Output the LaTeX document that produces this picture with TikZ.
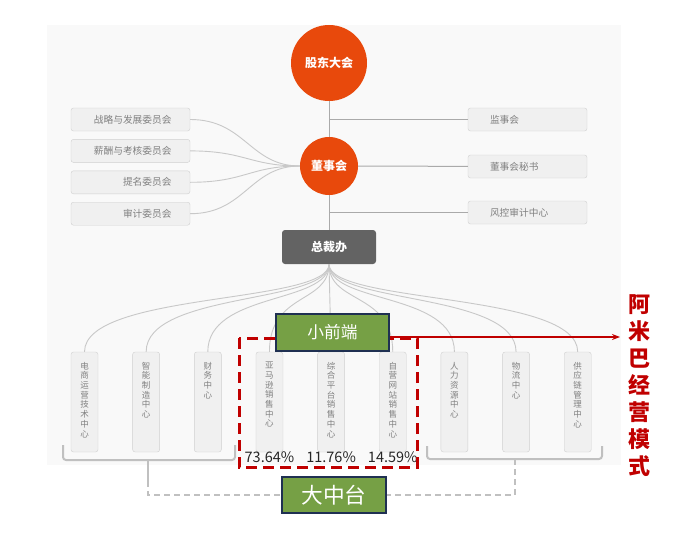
\documentclass[tikz,border=0pt]{standalone}
\usepackage{fontspec}
\setmainfont{Noto Sans CJK SC}
\usepackage{xcolor}
\usetikzlibrary{arrows.meta,positioning,calc}
\definecolor{orgred}{RGB}{232,73,12}
\definecolor{boxline}{RGB}{208,208,208}
\definecolor{boxfill}{RGB}{240,240,240}
\definecolor{boxtxt}{RGB}{128,128,128}
\definecolor{linegray}{RGB}{170,170,170}
\definecolor{curvegray}{RGB}{200,200,200}
\definecolor{brkgray}{RGB}{192,192,192}
\definecolor{bgpanel}{RGB}{249,249,249}
\definecolor{grn}{RGB}{118,160,69}
\definecolor{navy}{RGB}{31,48,82}
\definecolor{amred}{RGB}{192,0,0}
\definecolor{ceo}{RGB}{99,99,99}
\newcommand{\vlabel}[1]{\parbox[t][80pt][t]{14pt}{\centering #1}}

\begin{document}
\begin{tikzpicture}[x=1pt, y=-1pt,
  circ/.style={circle, fill=orgred, text=white, inner sep=0pt,
               font=\fontsize{12}{14}\selectfont\bfseries},
  lbox/.style={rectangle, rounded corners=2.5pt, draw=boxline, fill=boxfill,
               minimum width=119pt, minimum height=23pt, inner xsep=0pt,
               text width=82pt, align=right, text=boxtxt,
               font=\fontsize{9.7}{11}\selectfont},
  rbox/.style={lbox, text width=75pt, align=left},
  vbox/.style={rectangle, rounded corners=2.5pt, draw=boxline, fill=boxfill,
               minimum width=27pt, minimum height=100pt, inner sep=0pt,
               text=boxtxt, font=\fontsize{8.5}{9.7}\selectfont},
  gbox/.style={rectangle, draw=navy, line width=2pt, fill=grn, text=white},
  pct/.style={inner sep=0pt, text=black!85, font=\fontsize{14.5}{16}\selectfont},
  link/.style={draw=linegray, line width=1pt},
  cur/.style={draw=curvegray, line width=0.9pt},
  brk/.style={draw=brkgray, line width=2pt, rounded corners=3pt},
  dline/.style={draw=brkgray, line width=1.6pt, dash pattern=on 6pt off 4pt},
  redarr/.style={-{Stealth[length=8pt,width=6pt]}, draw=amred, line width=2pt},
  redframe/.style={draw=amred, line width=3pt, dash pattern=on 11pt off 6pt}
]
  \useasboundingbox (0,0) rectangle (676,532);
  \fill[bgpanel] (47,25) rectangle (621,465);

  % governance column
  \node[circ, minimum size=76pt] (gd) at (329,63) {股东大会};
  \node[circ, minimum size=58pt] (dsh) at (329,166) {董事会};
  \node[rectangle, rounded corners=3pt, fill=ceo, text=white, minimum width=94pt,
        minimum height=34pt, font=\fontsize{12}{14}\selectfont\bfseries] (zcb) at (329,247) {总裁办};

  \node[lbox] (c1) at (130.5,119.5) {战略与发展委员会};
  \node[lbox, below=8pt of c1] (c2) {薪酬与考核委员会};
  \node[lbox, below=8pt of c2] (c3) {提名委员会};
  \node[lbox, below=8pt of c3] (c4) {审计委员会};

  \node[rbox] (r1) at (527.5,119.5) {监事会};
  \node[rbox] (r2) at (527.5,166.5) {董事会秘书};
  \node[rbox] (r3) at (527.5,212.5) {风控审计中心};

  \draw[link] (gd) -- (dsh); \draw[link] (dsh) -- (zcb);
  \draw[link] (gd |- r1) -- (r1); \draw[link] (dsh) -- (r2); \draw[link] (dsh |- r3) -- (r3);
  \draw[cur] (c1.east) .. controls +(55,0) and +(-50,0) .. (dsh.west);
  \draw[cur] (c2.east) .. controls +(55,0) and +(-50,0) .. (dsh.west);
  \draw[cur] (c3.east) .. controls +(55,0) and +(-50,0) .. (dsh.west);
  \draw[cur] (c4.east) .. controls +(55,0) and +(-50,0) .. (dsh.west);

  % business units
  \node[vbox] (b1) at (84.5,402) {\vlabel{电\\商\\运\\营\\技\\术\\中\\心}};
  \node[vbox, right=34.25pt of b1] (b2) {\vlabel{智\\能\\制\\造\\中\\心}};
  \node[vbox, right=34.25pt of b2] (b3) {\vlabel{财\\务\\中\\心}};
  \node[vbox, right=34.25pt of b3] (b4) {\vlabel{亚\\马\\逊\\销\\售\\中\\心}};
  \node[vbox, right=34.25pt of b4] (b5) {\vlabel{综\\合\\平\\台\\销\\售\\中\\心}};
  \node[vbox, right=34.25pt of b5] (b6) {\vlabel{自\\营\\网\\站\\销\\售\\中\\心}};
  \node[vbox, right=34.25pt of b6] (b7) {\vlabel{人\\力\\资\\源\\中\\心}};
  \node[vbox, right=34.25pt of b7] (b8) {\vlabel{物\\流\\中\\心}};
  \node[vbox, right=34.25pt of b8] (b9) {\vlabel{供\\应\\链\\管\\理\\中\\心}};

  \draw[cur] (zcb.south) .. controls +(0,40) and +(0,-60) .. (b1.north);
  \draw[cur] (zcb.south) .. controls +(0,40) and +(0,-60) .. (b2.north);
  \draw[cur] (zcb.south) .. controls +(0,40) and +(0,-60) .. (b3.north);
  \draw[cur] (zcb.south) .. controls +(0,40) and +(0,-60) .. (b4.north);
  \draw[cur] (zcb.south) -- (b5.north);
  \draw[cur] (zcb.south) .. controls +(0,40) and +(0,-60) .. (b6.north);
  \draw[cur] (zcb.south) .. controls +(0,40) and +(0,-60) .. (b7.north);
  \draw[cur] (zcb.south) .. controls +(0,40) and +(0,-60) .. (b8.north);
  \draw[cur] (zcb.south) .. controls +(0,40) and +(0,-60) .. (b9.north);

  \node[pct, below=-1pt of b4] (p1) {73.64\%};
  \node[pct, below=-1pt of b5] (p2) {11.76\%};
  \node[pct, below=-1pt of b6] (p3) {14.59\%};

  % brackets
  \draw[brk] (63,445) -- (63,460) -- (235,460) -- (235,445);
  \coordinate (lb) at (148,481);
  \draw[brk] (148,460) -- (lb);
  \draw[brk] (427,446) -- (427,459) -- (602,459) -- (602,446);
  \coordinate (rb) at (515,459);

  \node[gbox, minimum width=104pt, minimum height=36pt,
        font=\fontsize{21.7}{24}\selectfont] (dzt) at (334,495) {大中台};
  \draw[dline] (lb) |- (dzt.west);
  \draw[dline] (rb) |- (dzt.east);

  % amoeba part
  \draw[redframe] (239,338) rectangle (417,467);
  \node[gbox, minimum width=113pt, minimum height=37pt,
        font=\fontsize{16.7}{19}\selectfont] (xq) at (332.5,332.5) {小前端};
  \coordinate (amb) at (620,337);
  \draw[redarr] (xq.east |- amb) -- (amb);
  \node[align=center, text=amred, font=\fontsize{22}{27}\selectfont\bfseries] (amx) at (639,386)
       {阿\\米\\巴\\经\\营\\模\\式};
\end{tikzpicture}
\end{document}
